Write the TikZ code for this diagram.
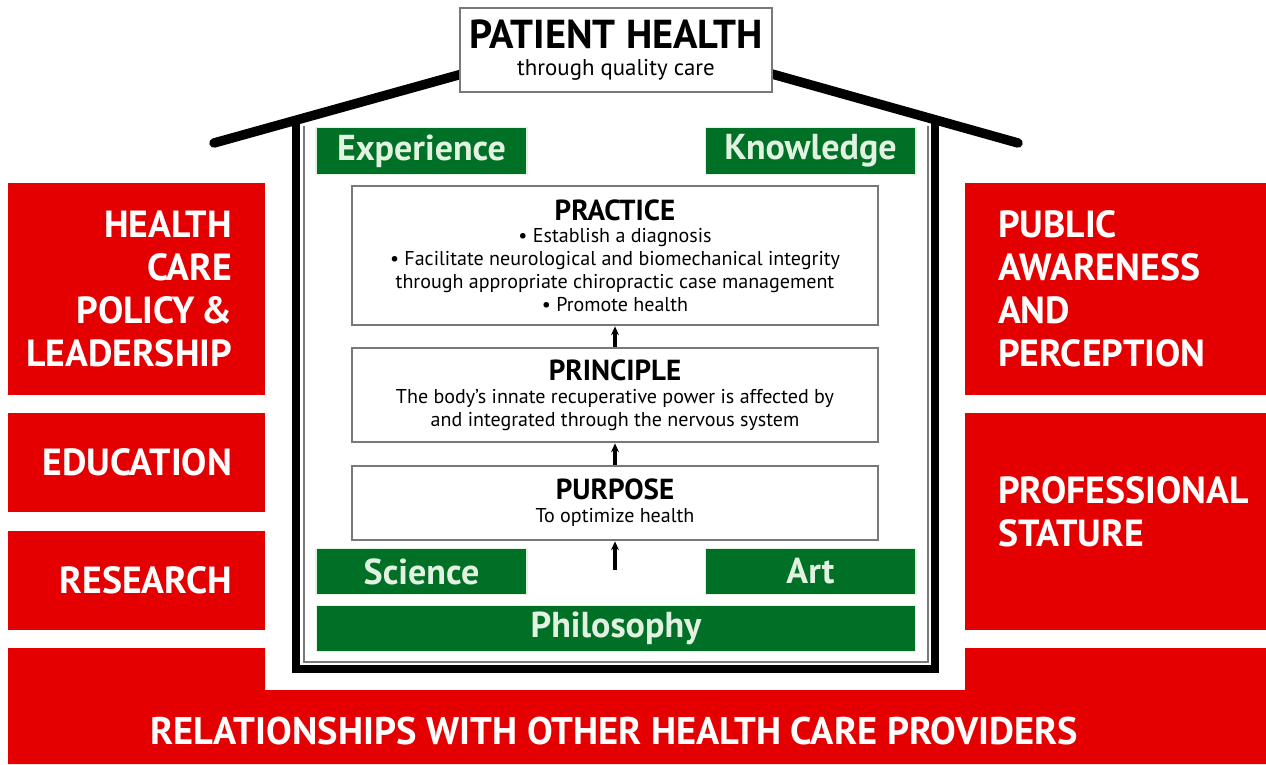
\documentclass[tikz,border=0pt]{standalone}
\usepackage{fontspec}
\setmainfont{PT Sans}
\usepackage{xcolor}
\usepackage{tikz}
\usetikzlibrary{arrows.meta}
\definecolor{chirored}{RGB}{228,0,0}
\definecolor{chirogreen}{RGB}{0,112,38}
\definecolor{palegreen}{RGB}{225,242,225}
\definecolor{framegray}{RGB}{120,120,120}

\begin{document}
\begin{tikzpicture}[x=0.02cm, y=-0.02cm,
  redbox/.style={fill=chirored, inner sep=0pt, minimum width=5.14cm},
  redtext/.style={text=white, font=\fontsize{21.5}{24.5}\selectfont\bfseries, inner sep=0pt},
  greenbox/.style={fill=chirogreen, draw=palegreen, line width=0.6pt, text=palegreen, font=\fontsize{20.5}{22}\selectfont\bfseries, minimum height=0.93cm},
  levelbox/.style={fill=white, draw=framegray, line width=1.6pt, minimum width=10.52cm, align=center, font=\fontsize{11.4}{13}\selectfont},
  uparrow/.style={-{Stealth[length=5pt,width=4.5pt]}, line width=1.8pt}]
\useasboundingbox (0,0) rectangle (1266,764);

% Side pillars
\node[redbox, minimum height=4.24cm] (policy) at (136.5,289) {};
\node[redbox, minimum height=1.98cm] (education) at (136.5,462.5) {};
\node[redbox, minimum height=1.98cm] (research) at (136.5,580.5) {};
\node[redbox, minimum width=6.02cm, minimum height=4.24cm] (awareness) at (1115.5,289) {};
\node[redbox, minimum width=6.02cm, minimum height=4.34cm] (stature) at (1115.5,521.5) {};
\node[redtext, anchor=east, align=right] (policytxt) at ([xshift=-0.66cm]policy.east) {HEALTH\\CARE\\POLICY\,\&\\LEADERSHIP};
\node[redtext, anchor=east] (edutxt) at ([xshift=-0.66cm]education.east) {EDUCATION};
\node[redtext, anchor=east] (restxt) at ([xshift=-0.66cm]research.east) {RESEARCH};
\node[redtext, anchor=west, align=left] (awaretxt) at ([xshift=0.66cm]awareness.west) {PUBLIC\\AWARENESS\\AND\\PERCEPTION};
\node[redtext, anchor=west, align=left] (staturetxt) at ([xshift=0.66cm,yshift=0.2cm]stature.west) {PROFESSIONAL\\STATURE};

% Foundation band
\fill[chirored] (8,648) -- (265,648) -- (265,690) -- (965,690) -- (965,648) -- (1266,648) -- (1266,764) -- (8,764) -- cycle;
\node[text=white, font=\fontsize{21.9}{24}\selectfont\bfseries] (relations) at (614,731) {RELATIONSHIPS WITH OTHER HEALTH CARE PROVIDERS};

% House frame and roof
\draw[framegray, line width=1.2pt] (304,126) -- (304,662) -- (928,662) -- (928,126);
\draw[line width=4.6pt] (296,120) -- (296,669) -- (935,669) -- (935,119);
\draw[line width=5.4pt, line cap=round] (214,143) -- (462,74);
\draw[line width=5.4pt, line cap=round] (772,74) -- (1018,143);
\node[fill=white, draw=framegray, line width=1.6pt, minimum width=6.24cm, minimum height=1.68cm, align=center, inner sep=0pt] (patient) at (616,50) {{\fontsize{23}{24}\selectfont\bfseries PATIENT HEALTH}\\[3pt]{\fontsize{13}{14}\selectfont through quality care}};

% Green blocks
\node[greenbox, minimum width=4.22cm] (experience) at (421.5,151) {Experience};
\node[greenbox, minimum width=4.22cm] (knowledge) at (810.5,151) {Knowledge};
\node[greenbox, minimum width=4.22cm] (science) at (421.5,571.5) {Science};
\node[greenbox, minimum width=4.22cm] (art) at (810.5,571.5) {Art};
\node[greenbox, minimum width=12cm] (philosophy) at (616,628.5) {Philosophy};

% Three levels
\node[levelbox, minimum height=2.78cm] (practice) at (615,255.5) {{\fontsize{16.5}{17}\selectfont\bfseries PRACTICE}\\
\textbullet\ Establish a diagnosis\\
\textbullet\ Facilitate neurological and biomechanical integrity\\
through appropriate chiropractic case management\\
\textbullet\ Promote health};
\node[levelbox, minimum height=1.88cm] (principle) at (615,395) {{\fontsize{16.5}{17}\selectfont\bfseries PRINCIPLE}\\
The body's innate recuperative power is affected by\\
and integrated through the nervous system};
\node[levelbox, minimum height=1.48cm] (purpose) at (615,503) {{\fontsize{16.5}{17}\selectfont\bfseries PURPOSE}\\
To optimize health};

% Arrows upward
\coordinate (base) at (615,570);
\draw[uparrow] (base) -- (purpose.south);
\draw[uparrow] (purpose.north) -- (principle.south);
\draw[uparrow] (principle.north) -- (practice.south);
\end{tikzpicture}
\end{document}
